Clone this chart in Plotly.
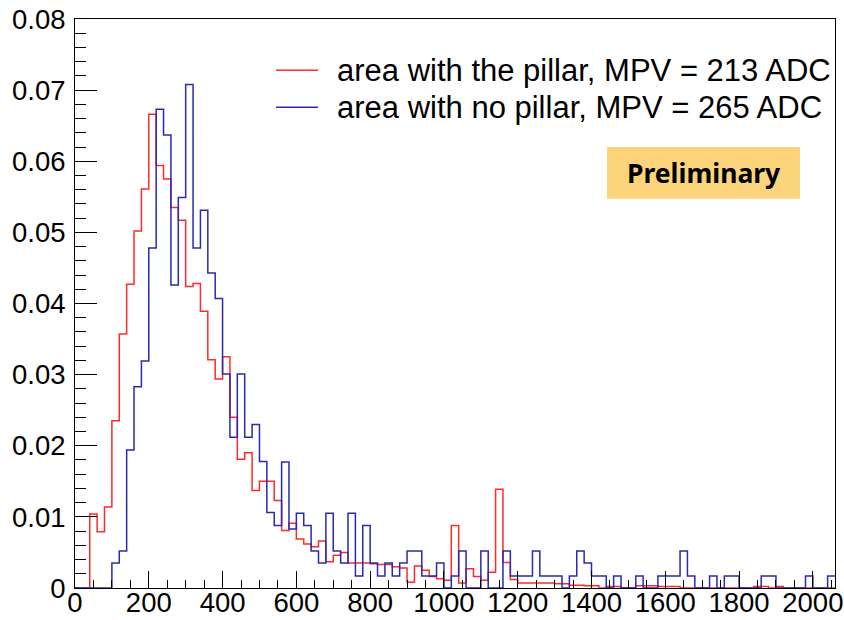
import numpy as np
import plotly.graph_objects as go

# ---------------- data (bin contents, normalised) ----------------
BIN_WIDTH = 20
X_MIN, X_MAX = 0, 2060

pillar = [
    0, 0, 0.0104, 0.0079, 0.0114, 0.0235, 0.0357, 0.0427, 0.0502, 0.0561,
    0.0666, 0.0594, 0.0575, 0.0535, 0.0517, 0.0424, 0.0428, 0.0389, 0.0321, 0.0294,
    0.0325, 0.0240, 0.0181, 0.0190, 0.0137, 0.0150, 0.0150, 0.0123, 0.0081, 0.0091,
    0.0069, 0.0062, 0.0058, 0.0066, 0.0037, 0.0046, 0.0050, 0.0035, 0.0035, 0.0035,
    0.0034, 0.0033, 0.0033, 0.0030, 0.0028, 0.0008, 0.0031, 0.0025, 0.0016, 0.0013,
    0.0011, 0.0088, 0.0007, 0.0027, 0.0016, 0.0011, 0.0022, 0.0139, 0.0036, 0.0012,
    0.0007, 0.0007, 0.0007, 0.0007, 0.0007, 0.0006, 0.0006, 0.0004, 0.0004, 0.0003,
    0.0003, 0, 0.0002, 0.0002, 0, 0, 0.0003, 0.0003, 0.0003, 0.0002,
    0.0002, 0.0002, 0, 0, 0, 0, 0, 0, 0, 0,
    0, 0, 0.0002, 0.0002, 0, 0.0002, 0, 0, 0, 0,
    0, 0, 0,
]

no_pillar = [
    0, 0, 0, 0, 0, 0.0035, 0.0052, 0.0194, 0.0283, 0.0319,
    0.0478, 0.0673, 0.0637, 0.0426, 0.0549, 0.0708, 0.0478, 0.0531, 0.0443, 0.0407,
    0.0301, 0.0212, 0.0301, 0.0212, 0.0230, 0.0178, 0.0106, 0.0088, 0.0177, 0.0083,
    0.0105, 0.0088, 0.0052, 0.0035, 0.0105, 0.0052, 0.0035, 0.0105, 0.0017, 0.0088,
    0.0035, 0.0017, 0.0035, 0.0017, 0.0035, 0.0052, 0.0052, 0.0017, 0.0017, 0.0035,
    0, 0.0017, 0.0052, 0, 0, 0.0052, 0, 0, 0.0052, 0.0017,
    0.0017, 0.0017, 0.0052, 0.0017, 0.0017, 0.0017, 0, 0.0017, 0.0052, 0.0035,
    0.0017, 0.0017, 0, 0.0017, 0, 0, 0.0017, 0, 0, 0.0017,
    0.0017, 0.0017, 0.0052, 0.0017, 0, 0, 0.0017, 0, 0.0017, 0.0017,
    0, 0, 0, 0.0017, 0.0017, 0, 0, 0, 0, 0.0017,
    0, 0, 0.0017,
]

series_names = [
    "area with the pillar, MPV = 213 ADC",
    "area with no pillar, MPV = 265 ADC",
]
y_ticks = [0, 0.01, 0.02, 0.03, 0.04, 0.05, 0.06, 0.07, 0.08]
y_tick_text = ["0", "0.01", "0.02", "0.03", "0.04", "0.05", "0.06", "0.07", "0.08"]
x_ticks = list(range(0, 2001, 200))
badge_text = "Preliminary"

RED = "#ff2a2a"
BLUE = "#2a2ab0"


def step_xy(values):
    n = len(values)
    edges = X_MIN + BIN_WIDTH * np.arange(n + 1)
    ys = list(values) + [values[-1]]
    return edges, ys


fig = go.Figure()
for vals, col, name in [(pillar, RED, series_names[0]), (no_pillar, BLUE, series_names[1])]:
    ex, ey = step_xy(vals)
    fig.add_trace(go.Scatter(
        x=ex, y=ey, mode="lines", line=dict(color=col, width=1.5, shape="hv"),
        name=name, showlegend=False, hoverinfo="skip",
    ))

TICK_FONT = dict(family="Liberation Sans, Arial, Helvetica, sans-serif", size=27.5, color="black")

fig.update_xaxes(
    range=[X_MIN, X_MAX], showgrid=False, zeroline=False, automargin=False,
    showline=True, mirror=True, linecolor="black", linewidth=1,
    ticks="inside", ticklen=17, tickwidth=1, tickcolor="black",
    tickvals=x_ticks, ticktext=[str(v) for v in x_ticks],
    minor=dict(ticks="inside", dtick=50, ticklen=8, tickcolor="black", tickwidth=1, showgrid=False),
    tickfont=TICK_FONT, ticklabelstandoff=-10,
)
fig.update_yaxes(
    range=[0, 0.08], showgrid=False, zeroline=False, automargin=False,
    showline=True, mirror=True, linecolor="black", linewidth=1,
    ticks="inside", ticklen=22, tickwidth=1, tickcolor="black",
    tickvals=y_ticks, ticktext=y_tick_text,
    minor=dict(ticks="inside", dtick=0.002, ticklen=11, tickcolor="black", tickwidth=1, showgrid=False),
    tickfont=TICK_FONT, ticklabelstandoff=3,
)

# ---- legend drawn in paper coordinates ----
LEG_FONT = dict(family="Liberation Sans, Arial, Helvetica, sans-serif", size=31, color="black")
leg_rows = [(0.910, RED, series_names[0]), (0.845, BLUE, series_names[1])]
for yy, col, name in leg_rows:
    fig.add_shape(type="line", xref="paper", yref="paper", x0=0.2645, x1=0.3197, y0=yy, y1=yy,
                  line=dict(color=col, width=1.5))
    fig.add_annotation(xref="paper", yref="paper", x=0.342, y=yy, text=name, showarrow=False,
                       xanchor="left", yanchor="middle", font=LEG_FONT)

# ---- Preliminary badge ----
fig.add_shape(type="rect", xref="paper", yref="paper", x0=0.700, x1=0.954, y0=0.684, y1=0.775,
              fillcolor="#fcd47c", line=dict(width=0), layer="above")
fig.add_annotation(xref="paper", yref="paper", x=0.828, y=0.7295, text="<b>%s</b>" % badge_text,
                   showarrow=False, xanchor="center", yanchor="middle",
                   font=dict(family="Noto Sans, Open Sans, sans-serif", size=26.5, color="black"))

fig.update_layout(
    width=844, height=620,
    margin=dict(l=75, r=9, t=19, b=32),
    paper_bgcolor="white", plot_bgcolor="white",
    showlegend=False,
)

fig.write_html("out.html")
